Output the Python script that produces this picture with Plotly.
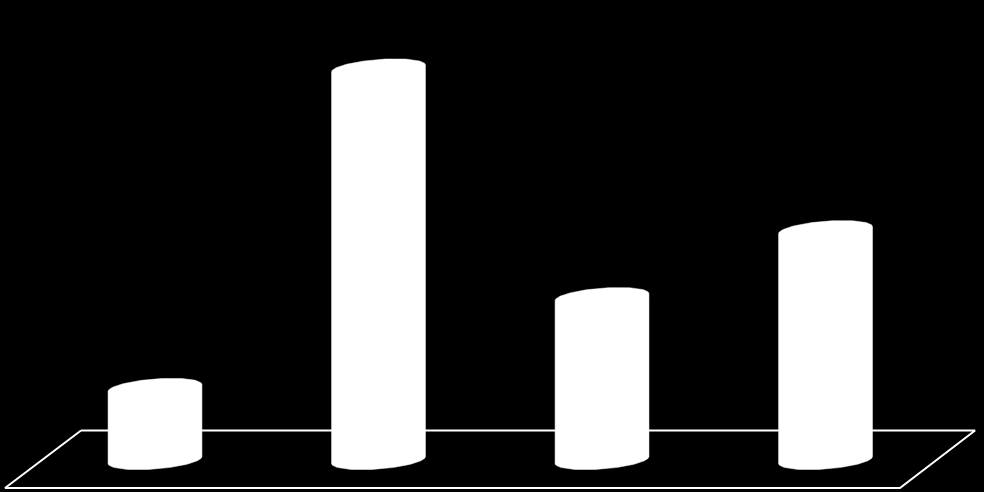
import numpy as np
import plotly.graph_objects as go

# data
categories = ["A", "B", "C", "D"]
values = [18.4, 100, 41.6, 58.7]

# floor outline (data units): back edge a bit above zero, front edge below
floor_x = [-0.331, 3.669, 3.333, -0.671, -0.331]
floor_y = [7.54, 7.54, -7.15, -7.15, 7.54]

half_w = 0.21     # cylinder radius in x units
cap_b = 2.3       # vertical half-size of the elliptic caps
cap_k = 0.9       # tilt of the caps

fig = go.Figure()

fig.add_trace(go.Scatter(x=floor_x, y=floor_y, mode="lines",
                         line=dict(color="white", width=2),
                         hoverinfo="skip", showlegend=False))

t_top = np.linspace(np.pi, 0, 60)
t_bot = np.linspace(0, -np.pi, 60)
for i, (cat, v) in enumerate(zip(categories, values)):
    xs = np.concatenate([i + half_w * np.cos(t_top), i + half_w * np.cos(t_bot)])
    ys = np.concatenate([v + cap_b * np.sin(t_top) + cap_k * np.cos(t_top),
                         cap_b * np.sin(t_bot) + cap_k * np.cos(t_bot)])
    xs = np.append(xs, xs[0])
    ys = np.append(ys, ys[0])
    fig.add_trace(go.Scatter(x=xs, y=ys, mode="lines", fill="toself",
                             fillcolor="white", line=dict(color="white", width=0.5),
                             name=cat, hoverinfo="skip", showlegend=False))

fig.update_layout(
    width=984, height=492,
    margin=dict(l=0, r=0, t=0, b=0),
    paper_bgcolor="black", plot_bgcolor="black",
    xaxis=dict(range=[-0.6935, 3.709], visible=False, fixedrange=True),
    yaxis=dict(range=[-8.17, 117.5], visible=False, fixedrange=True),
    hovermode=False,
)
# page body margin off so the figure sits at the window corner
fig.write_html("out.html", config={"displayModeBar": False},
               post_script="document.body.style.margin='0';"
                           "document.body.style.background='black';")
